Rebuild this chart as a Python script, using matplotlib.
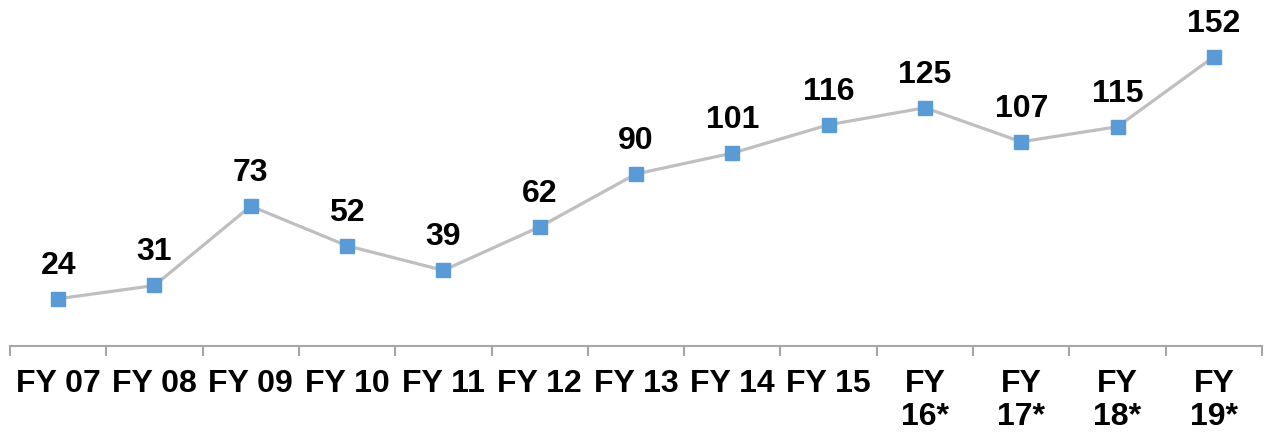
import matplotlib
matplotlib.use("Agg")
import matplotlib.pyplot as plt
import numpy as np
from matplotlib.ticker import FixedLocator

categories = ["FY 07", "FY 08", "FY 09", "FY 10", "FY 11", "FY 12", "FY 13",
              "FY 14", "FY 15", "FY\n16*", "FY\n17*", "FY\n18*", "FY\n19*"]
values = [24, 31, 73, 52, 39, 62, 90, 101, 116, 125, 107, 115, 152]

plt.rcParams["font.family"] = ["Liberation Sans", "DejaVu Sans"]

fig = plt.figure(figsize=(12.69, 4.34), dpi=100)
ax = fig.add_axes([10 / 1269, 88 / 434, 1252 / 1269, 346 / 434])

x = np.arange(len(values))
ax.plot(x, values, color="#BFBFBF", linewidth=2.3, marker="s", markersize=10.5,
        markerfacecolor="#5B9BD5", markeredgecolor="#5B9BD5", zorder=3)

for xi, v in zip(x, values):
    ax.annotate(str(v), (xi, v), xytext=(0, 13), textcoords="offset points",
                ha="center", va="bottom", fontsize=23, fontweight="bold")

ax.set_xlim(-0.5, len(values) - 0.5)
ax.set_ylim(-1, 182)
ax.set_yticks([])
for side in ("top", "right", "left"):
    ax.spines[side].set_visible(False)
ax.spines["bottom"].set_color("#A6A6A6")
ax.spines["bottom"].set_linewidth(1.5)

ax.set_xticks(x)
ax.set_xticklabels(categories, fontsize=23, fontweight="bold", linespacing=1.12, va="top")
ax.tick_params(axis="x", which="major", length=0, pad=16.5)
ax.xaxis.set_minor_locator(FixedLocator(np.arange(-0.5, len(values), 1.0)))
ax.tick_params(axis="x", which="minor", length=7, width=1.5, color="#A6A6A6")

fig.savefig("out.png", dpi=100)
